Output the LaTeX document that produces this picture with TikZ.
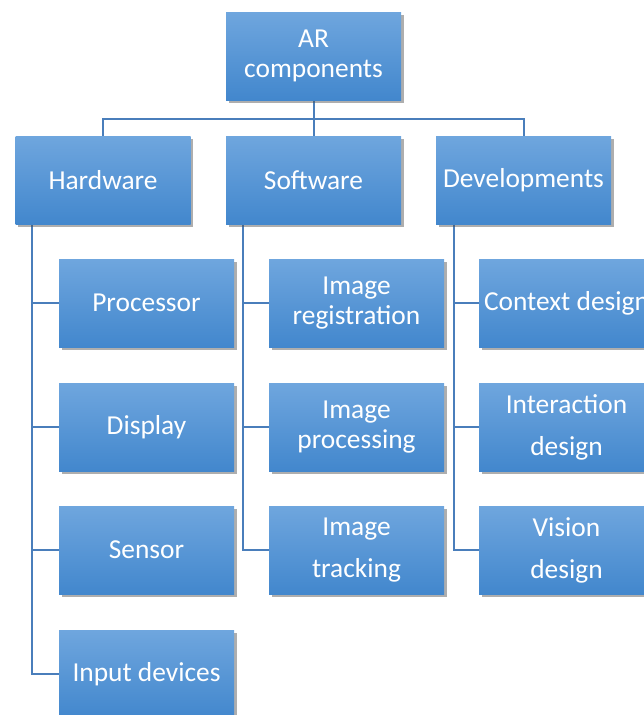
\documentclass[tikz,border=0pt]{standalone}
\usepackage{fontspec}
\setmainfont{Carlito}
\usetikzlibrary{shadows,backgrounds}
\definecolor{boxtop}{RGB}{111,166,222}
\definecolor{boxbot}{RGB}{66,135,205}
\definecolor{linkblue}{RGB}{74,126,187}
\tikzset{
  card/.style={rectangle, minimum width=175pt, minimum height=88pt, inner sep=0pt,
    top color=boxtop, bottom color=boxbot, draw=none, text=white, align=center,
    font=\fontsize{27.4}{30.5}\selectfont,
    drop shadow={shadow xshift=2.5pt, shadow yshift=-3pt, opacity=0.45, fill=black!70}},
  tallcard/.style={card, font=\fontsize{27.4}{42}\selectfont},
  link/.style={draw=linkblue, line width=2pt}
}
\begin{document}
\begin{tikzpicture}[x=1pt,y=-1pt]
\useasboundingbox (0,0) rectangle (644,715);
\clip (0,0) rectangle (644,715);
% top level
\node[card] (ar) at (313.5,56) {AR\\components};
% second level
\node[card] (hw)  at (103,180) {Hardware};
\node[card] (sw)  at (313.5,180) {Software};
\node[card] (dev) at (523.5,180) {Developments};
% hardware items
\node[card] (proc) at (146.5,303) {Processor};
\node[card] (disp) at (146.5,427) {Display};
\node[card] (sens) at (146.5,550) {Sensor};
\node[card] (inp)  at (146.5,674) {Input devices};
% software items
\node[card] (reg)  at (356.5,303) {Image\\registration};
\node[card] (proc2) at (356.5,427) {Image\\processing};
\node[tallcard] (trk) at (356.5,550) {Image\\tracking};
% development items
\node[card] (ctx) at (566.5,303) {Context design};
\node[tallcard] (inter) at (566.5,427) {Interaction\\design};
\node[tallcard] (vis) at (566.5,550) {Vision\\design};
% connectors
\begin{pgfonlayer}{background}
\coordinate (bus) at (313.5,119);
\draw[link] (ar.south) -- (bus);
\draw[link] (bus) -| (hw.north);
\draw[link] (bus) -- (sw.north);
\draw[link] (bus) -| (dev.north);
\coordinate (hwt) at ([xshift=17pt]hw.south west);
\draw[link] (hwt) |- (inp.west);
\draw[link] (hwt |- proc.west) -- (proc.west);
\draw[link] (hwt |- disp.west) -- (disp.west);
\draw[link] (hwt |- sens.west) -- (sens.west);
\coordinate (swt) at ([xshift=17pt]sw.south west);
\draw[link] (swt) |- (trk.west);
\draw[link] (swt |- reg.west) -- (reg.west);
\draw[link] (swt |- proc2.west) -- (proc2.west);
\coordinate (devt) at ([xshift=18pt]dev.south west);
\draw[link] (devt) |- (vis.west);
\draw[link] (devt |- ctx.west) -- (ctx.west);
\draw[link] (devt |- inter.west) -- (inter.west);
\end{pgfonlayer}
\end{tikzpicture}
\end{document}
